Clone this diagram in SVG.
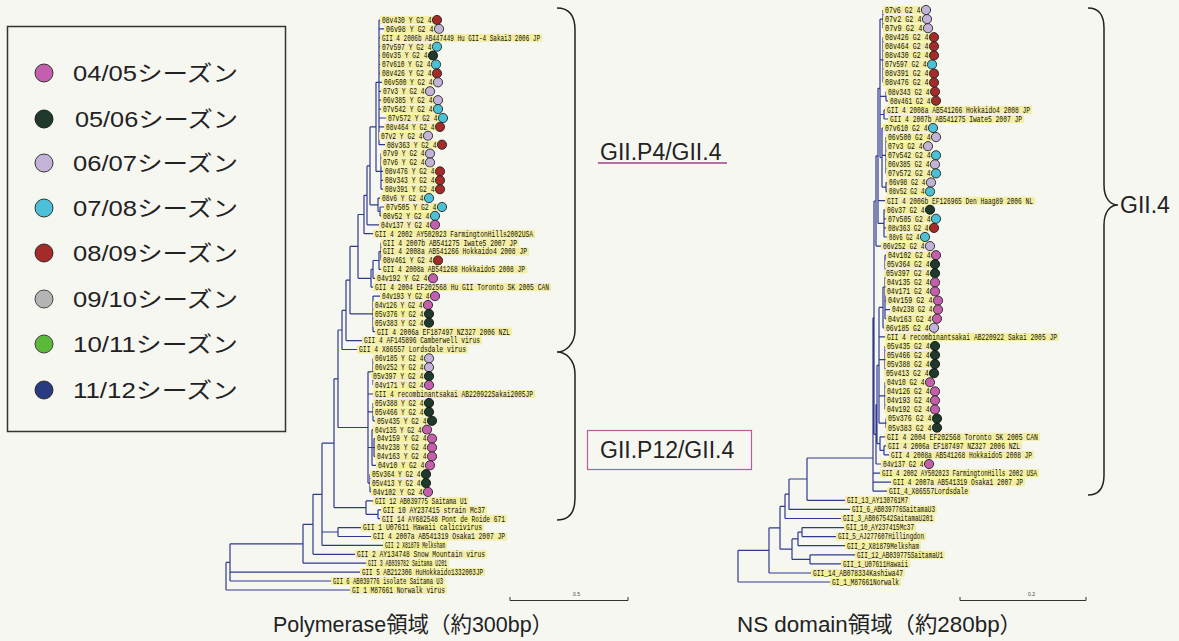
<svg xmlns="http://www.w3.org/2000/svg" width="1179" height="641" viewBox="0 0 1179 641">
<style>
.br{fill:none;stroke:#2f3a8c;stroke-width:1.2}
.hl{fill:#f3eea2}
.t{font-family:"Liberation Mono",monospace;font-size:8.6px;fill:#111}
.m{fill:#c45fae;stroke:#222;stroke-width:0.9}
.d{fill:#1f3a2c;stroke:#111;stroke-width:0.9}
.l{fill:#c3b3d9;stroke:#222;stroke-width:0.9}
.c{fill:#4cc0d6;stroke:#222;stroke-width:0.9}
.r{fill:#a52a2a;stroke:#222;stroke-width:0.9}
.g{fill:#b4b4b4;stroke:#333;stroke-width:0.9}
.gr{fill:#5ab83a;stroke:#333;stroke-width:0.9}
.nv{fill:#2a3a80;stroke:#222;stroke-width:0.9}
.lg{font-family:"Liberation Sans","Noto Sans CJK JP",sans-serif;font-size:22px;fill:#222}
.big{font-family:"Liberation Sans","Noto Sans CJK JP",sans-serif;font-size:23px;fill:#222}
.cap{font-family:"Liberation Sans","Noto Sans CJK JP",sans-serif;font-size:22px;fill:#222}
.brace{fill:none;stroke:#222;stroke-width:1.5}
.sb{fill:none;stroke:#333;stroke-width:1}
.sbt{font-family:"Liberation Sans",sans-serif;font-size:5px;fill:#444}
</style>
<rect x="0" y="0" width="1179" height="641" fill="#f7f7f2"/>

<g id="legend">
<rect x="7.5" y="26.5" width="278" height="405" fill="none" stroke="#333" stroke-width="1.5"/>
<g id="leg-0405"><circle cx="44" cy="73" r="9" class="m"/><text x="73" y="81" class="lg" textLength="165" lengthAdjust="spacingAndGlyphs">04/05シーズン</text></g>
<g id="leg-0506"><circle cx="44" cy="119" r="9" class="d"/><text x="75" y="127" class="lg" textLength="163" lengthAdjust="spacingAndGlyphs">05/06シーズン</text></g>
<g id="leg-0607"><circle cx="44" cy="163" r="9" class="l"/><text x="73" y="171" class="lg" textLength="165" lengthAdjust="spacingAndGlyphs">06/07シーズン</text></g>
<g id="leg-0708"><circle cx="44" cy="208" r="9" class="c"/><text x="73" y="216" class="lg" textLength="165" lengthAdjust="spacingAndGlyphs">07/08シーズン</text></g>
<g id="leg-0809"><circle cx="44" cy="253" r="9" class="r"/><text x="73" y="261" class="lg" textLength="165" lengthAdjust="spacingAndGlyphs">08/09シーズン</text></g>
<g id="leg-0910"><circle cx="44" cy="299" r="9" class="g"/><text x="73" y="307" class="lg" textLength="165" lengthAdjust="spacingAndGlyphs">09/10シーズン</text></g>
<g id="leg-1011"><circle cx="44" cy="344" r="9" class="gr"/><text x="73" y="352" class="lg" textLength="165" lengthAdjust="spacingAndGlyphs">10/11シーズン</text></g>
<g id="leg-1112"><circle cx="44" cy="390" r="9" class="nv"/><text x="73" y="398" class="lg" textLength="165" lengthAdjust="spacingAndGlyphs">11/12シーズン</text></g>
</g>

<g id="connectors">
<path id="tree-left" class="br" d="M379 20V144.7M379 20H380M379 28.9H384M379 37.8H380M379 46.7H380M379 55.6H380M379 64.5H380M379 73.4H380M379 82.3H382M379 91.3H381M379 100.2H381M379 109.1H381M379 118H386M379 126.9H384M379 144.7H385
M381 153.6V189.2M381 171.4H383M381 180.3H383M381 189.2H383
M376 82.3V171.4M376 82.3H379M376 171.4H381
M380 207V215.9M380 207H384M380 215.9H381
M378 198.1V211.5M378 198.1H380M378 211.5H380
M370 126.9V204.8M370 126.9H376M370 204.8H378
M367 165.9V224.8M367 165.9H370M367 224.8H379
M364 195.3V233.7M364 195.3H367M364 233.7H373
M381 242.7V260.5
M379 251.6V269.4M379 251.6H381M379 269.4H381
M373 260.5V278.3M373 260.5H379M373 278.3H375
M371 269.4V287.2M371 269.4H373M371 287.2H373
M358 214.5V278.3M358 214.5H364M358 278.3H371
M373 296.1V331.7M373 296.1H380M373 331.7H375
M350 246.4V313.9M350 246.4H358M350 313.9H373
M346 280.2V340.6M346 280.2H350M346 340.6H362
M342 310.4V349.5M342 310.4H346M342 349.5H357
M373 358.4V385.1
M373 403V420.8M373 420.8H375
M374 438.6V456.4M374 438.6H375M374 447.5H375M374 456.4H375
M372 429.7V465.3M372 429.7H373M372 447.5H374M372 465.3H376
M370 474.2V492M370 492H371
M368 371.8V483.1M368 371.8H373M368 394H373M368 411.9H373M368 447.5H372M368 483.1H370
M338 330V427.5M338 330H342M338 427.5H368
M378 509.8V518.7M378 509.8H381M378 518.7H380
M366 500.9V514.3M366 500.9H373M366 514.3H378
M334 378.8V507.6M334 378.8H338M334 507.6H366
M338 527.6V536.5M338 527.6H361M338 536.5H371
M322 443.2V545.4M322 443.2H334M322 532H338M322 545.4H383
M313 494.3V554.3M313 494.3H322M313 554.3H355
M303 524.3V563.2M303 524.3H313M303 563.2H366
M230 543.8V581M230 543.8H303M230 572.1H360M230 581H331
M226 562.4V590M226 562.4H230M226 590H350"/>
<path id="tree-right" class="br" d="M883 10V28.2M883 37.2V82.6M886 91.7V100.8M886 100.8H888
M884 109.9V119M884 109.9H885M884 119H888
M886 137.1V173.4M886 182.5V191.6M886 182.5H887M886 191.6H887
M882 128V187.1M882 128H883M882 155.3H886M882 187.1H886
M880 19.1V157.5M880 19.1H883M880 59.9H883M880 96.3H886M880 114.5H884M880 157.5H882
M884 209.8V237M884 209.8H885M884 218.8H886M884 227.9H886M884 237H887
M878 88.3V223.4M878 88.3H880M878 200.7H885M878 223.4H884
M876 155.8V246.1M876 155.8H878M876 246.1H881
M885 255.2V318.7M885 255.2H886M885 300.6H886M885 309.6H890M885 318.7H886
M883 287V327.8M883 287H885M883 327.8H884
M885 346V373.2M885 382.3V409.5M886 418.6V427.7
M879 307.4V423.2M879 307.4H883M879 336.9H885M879 359.6H885M879 395.9H885M879 423.2H886
M884 445.8V454.9M884 445.8H886M884 454.9H889
M880 436.8V450.4M880 436.8H885M880 450.4H884
M877 365.3V443.6M877 365.3H879M877 443.6H880
M876 404.5V464M876 404.5H877M876 464H881
M874 201V434.3M874 201H876M874 434.3H876
M873 317.7V491.2M873 317.7H874M873 473.1H880M873 482.2H891M873 491.2H887
M807 458H873M807 458V500.3M807 500.3H845
M789 479H807M789 479V509.4M789 509.4H850
M785 494.2H789M785 494.2V518.5M785 518.5H841
M802 527.6V536.6M802 527.6H844M802 536.6H836
M798 532.1H802M798 532.1V545.7M798 545.7H845
M810 554.8V563.9M810 554.8H855M810 563.9H841
M792 538.9H798M792 538.9V559.4M792 559.4H810
M780 506.4H785M780 506.4V549.2M780 549.2H792
M769 527.8H780M769 527.8V573M769 573H811
M738 550.4H769M738 550.4V582M738 582H830"/>
</g>

<g id="left-tips">
<g id="L1"><rect x="380" y="16" width="57" height="8" class="hl"/><text x="382" y="22.8" class="t" textLength="49.5" lengthAdjust="spacingAndGlyphs">08v430 Y G2 4</text><circle cx="437" cy="20" r="4.6" class="r"/></g>
<g id="L2"><rect x="384" y="24.9" width="55" height="8" class="hl"/><text x="386" y="31.7" class="t" textLength="47.5" lengthAdjust="spacingAndGlyphs">06v98 Y G2 4</text><circle cx="439" cy="28.9" r="4.6" class="l"/></g>
<g id="L3"><rect x="380" y="33.8" width="162" height="8" class="hl"/><text x="382" y="40.6" class="t" textLength="158" lengthAdjust="spacingAndGlyphs">GII 4 2006b AB447449 Hu GII-4 Sakai3 2006 JP</text></g>
<g id="L4"><rect x="380" y="42.7" width="57" height="8" class="hl"/><text x="382" y="49.5" class="t" textLength="49.5" lengthAdjust="spacingAndGlyphs">07v597 Y G2 4</text><circle cx="437" cy="46.7" r="4.6" class="c"/></g>
<g id="L5"><rect x="380" y="51.6" width="53" height="8" class="hl"/><text x="382" y="58.4" class="t" textLength="45.5" lengthAdjust="spacingAndGlyphs">06v35 Y G2 4</text><circle cx="433" cy="55.6" r="4.6" class="d"/></g>
<g id="L6"><rect x="380" y="60.5" width="56" height="8" class="hl"/><text x="382" y="67.3" class="t" textLength="48.5" lengthAdjust="spacingAndGlyphs">07v610 Y G2 4</text><circle cx="436" cy="64.5" r="4.6" class="c"/></g>
<g id="L7"><rect x="380" y="69.4" width="57" height="8" class="hl"/><text x="382" y="76.2" class="t" textLength="49.5" lengthAdjust="spacingAndGlyphs">08v426 Y G2 4</text><circle cx="437" cy="73.4" r="4.6" class="r"/></g>
<g id="L8"><rect x="382" y="78.3" width="56" height="8" class="hl"/><text x="384" y="85.1" class="t" textLength="48.5" lengthAdjust="spacingAndGlyphs">06v500 Y G2 4</text><circle cx="438" cy="82.3" r="4.6" class="l"/></g>
<g id="L9"><rect x="381" y="87.3" width="49" height="8" class="hl"/><text x="383" y="94.1" class="t" textLength="41.5" lengthAdjust="spacingAndGlyphs">07v3 Y G2 4</text><circle cx="430" cy="91.3" r="4.6" class="l"/></g>
<g id="L10"><rect x="381" y="96.2" width="57" height="8" class="hl"/><text x="383" y="103" class="t" textLength="49.5" lengthAdjust="spacingAndGlyphs">06v385 Y G2 4</text><circle cx="438" cy="100.2" r="4.6" class="l"/></g>
<g id="L11"><rect x="381" y="105.1" width="57" height="8" class="hl"/><text x="383" y="111.9" class="t" textLength="49.5" lengthAdjust="spacingAndGlyphs">07v542 Y G2 4</text><circle cx="438" cy="109.1" r="4.6" class="c"/></g>
<g id="L12"><rect x="386" y="114" width="57" height="8" class="hl"/><text x="388" y="120.8" class="t" textLength="49.5" lengthAdjust="spacingAndGlyphs">07v572 Y G2 4</text><circle cx="443" cy="118" r="4.6" class="c"/></g>
<g id="L13"><rect x="384" y="122.9" width="56" height="8" class="hl"/><text x="386" y="129.7" class="t" textLength="48.5" lengthAdjust="spacingAndGlyphs">08v464 Y G2 4</text><circle cx="440" cy="126.9" r="4.6" class="r"/></g>
<g id="L14"><rect x="379" y="131.8" width="49" height="8" class="hl"/><text x="381" y="138.6" class="t" textLength="41.5" lengthAdjust="spacingAndGlyphs">07v2 Y G2 4</text><circle cx="428" cy="135.8" r="4.6" class="l"/></g>
<g id="L15"><rect x="385" y="140.7" width="57" height="8" class="hl"/><text x="387" y="147.5" class="t" textLength="49.5" lengthAdjust="spacingAndGlyphs">08v363 Y G2 4</text><circle cx="442" cy="144.7" r="4.6" class="r"/></g>
<g id="L16"><rect x="381" y="149.6" width="49" height="8" class="hl"/><text x="383" y="156.4" class="t" textLength="41.5" lengthAdjust="spacingAndGlyphs">07v9 Y G2 4</text><circle cx="430" cy="153.6" r="4.6" class="l"/></g>
<g id="L17"><rect x="381" y="158.5" width="49" height="8" class="hl"/><text x="383" y="165.3" class="t" textLength="41.5" lengthAdjust="spacingAndGlyphs">07v6 Y G2 4</text><circle cx="430" cy="162.5" r="4.6" class="l"/></g>
<g id="L18"><rect x="383" y="167.4" width="57" height="8" class="hl"/><text x="385" y="174.2" class="t" textLength="49.5" lengthAdjust="spacingAndGlyphs">08v476 Y G2 4</text><circle cx="440" cy="171.4" r="4.6" class="r"/></g>
<g id="L19"><rect x="383" y="176.3" width="57" height="8" class="hl"/><text x="385" y="183.1" class="t" textLength="49.5" lengthAdjust="spacingAndGlyphs">08v343 Y G2 4</text><circle cx="440" cy="180.3" r="4.6" class="r"/></g>
<g id="L20"><rect x="383" y="185.2" width="57" height="8" class="hl"/><text x="385" y="192" class="t" textLength="49.5" lengthAdjust="spacingAndGlyphs">08v391 Y G2 4</text><circle cx="440" cy="189.2" r="4.6" class="r"/></g>
<g id="L21"><rect x="380" y="194.1" width="49" height="8" class="hl"/><text x="382" y="200.9" class="t" textLength="41.5" lengthAdjust="spacingAndGlyphs">08v6 Y G2 4</text><circle cx="429" cy="198.1" r="4.6" class="c"/></g>
<g id="L22"><rect x="384" y="203" width="58" height="8" class="hl"/><text x="386" y="209.8" class="t" textLength="50.5" lengthAdjust="spacingAndGlyphs">07v505 Y G2 4</text><circle cx="442" cy="207" r="4.6" class="c"/></g>
<g id="L23"><rect x="381" y="211.9" width="54" height="8" class="hl"/><text x="383" y="218.7" class="t" textLength="46.5" lengthAdjust="spacingAndGlyphs">08v52 Y G2 4</text><circle cx="435" cy="215.9" r="4.6" class="c"/></g>
<g id="L24"><rect x="379" y="220.8" width="56" height="8" class="hl"/><text x="381" y="227.6" class="t" textLength="48.5" lengthAdjust="spacingAndGlyphs">04v137 Y G2 4</text><circle cx="435" cy="224.8" r="4.6" class="m"/></g>
<g id="L25"><rect x="373" y="229.7" width="162" height="8" class="hl"/><text x="375" y="236.5" class="t" textLength="158" lengthAdjust="spacingAndGlyphs">GII 4 2002 AY502023 FarmingtonHills2002USA</text></g>
<g id="L26"><rect x="381" y="238.7" width="138" height="8" class="hl"/><text x="383" y="245.5" class="t" textLength="134" lengthAdjust="spacingAndGlyphs">GII 4 2007b AB541275 Iwate5 2007 JP</text></g>
<g id="L27"><rect x="381" y="247.6" width="148" height="8" class="hl"/><text x="383" y="254.4" class="t" textLength="144" lengthAdjust="spacingAndGlyphs">GII 4 2008a AB541266 Hokkaido4 2008 JP</text></g>
<g id="L28"><rect x="381" y="256.5" width="57" height="8" class="hl"/><text x="383" y="263.3" class="t" textLength="49.5" lengthAdjust="spacingAndGlyphs">08v461 Y G2 4</text><circle cx="438" cy="260.5" r="4.6" class="r"/></g>
<g id="L29"><rect x="381" y="265.4" width="146" height="8" class="hl"/><text x="383" y="272.2" class="t" textLength="142" lengthAdjust="spacingAndGlyphs">GII 4 2008a AB541268 Hokkaido5 2008 JP</text></g>
<g id="L30"><rect x="375" y="274.3" width="58" height="8" class="hl"/><text x="377" y="281.1" class="t" textLength="50.5" lengthAdjust="spacingAndGlyphs">04v192 Y G2 4</text><circle cx="433" cy="278.3" r="4.6" class="m"/></g>
<g id="L31"><rect x="373" y="283.2" width="178" height="8" class="hl"/><text x="375" y="290" class="t" textLength="174" lengthAdjust="spacingAndGlyphs">GII 4 2004 EF202568 Hu GII Toronto SK 2005 CAN</text></g>
<g id="L32"><rect x="380" y="292.1" width="55" height="8" class="hl"/><text x="382" y="298.9" class="t" textLength="47.5" lengthAdjust="spacingAndGlyphs">04v193 Y G2 4</text><circle cx="435" cy="296.1" r="4.6" class="m"/></g>
<g id="L33"><rect x="373" y="301" width="55" height="8" class="hl"/><text x="375" y="307.8" class="t" textLength="47.5" lengthAdjust="spacingAndGlyphs">04v126 Y G2 4</text><circle cx="428" cy="305" r="4.6" class="m"/></g>
<g id="L34"><rect x="373" y="309.9" width="56" height="8" class="hl"/><text x="375" y="316.7" class="t" textLength="48.5" lengthAdjust="spacingAndGlyphs">05v376 Y G2 4</text><circle cx="429" cy="313.9" r="4.6" class="d"/></g>
<g id="L35"><rect x="373" y="318.8" width="56" height="8" class="hl"/><text x="375" y="325.6" class="t" textLength="48.5" lengthAdjust="spacingAndGlyphs">05v383 Y G2 4</text><circle cx="429" cy="322.8" r="4.6" class="d"/></g>
<g id="L36"><rect x="375" y="327.7" width="137" height="8" class="hl"/><text x="377" y="334.5" class="t" textLength="133" lengthAdjust="spacingAndGlyphs">GII 4 2006a EF187497 NZ327 2006 NZL</text></g>
<g id="L37"><rect x="362" y="336.6" width="120" height="8" class="hl"/><text x="364" y="343.4" class="t" textLength="116" lengthAdjust="spacingAndGlyphs">GII 4 AF145896 Camberwell virus</text></g>
<g id="L38"><rect x="357" y="345.5" width="111" height="8" class="hl"/><text x="359" y="352.3" class="t" textLength="107" lengthAdjust="spacingAndGlyphs">GII 4 X86557 Lordsdale virus</text></g>
<g id="L39"><rect x="373" y="354.4" width="56" height="8" class="hl"/><text x="375" y="361.2" class="t" textLength="48.5" lengthAdjust="spacingAndGlyphs">06v185 Y G2 4</text><circle cx="429" cy="358.4" r="4.6" class="l"/></g>
<g id="L40"><rect x="373" y="363.3" width="56" height="8" class="hl"/><text x="375" y="370.1" class="t" textLength="48.5" lengthAdjust="spacingAndGlyphs">06v252 Y G2 4</text><circle cx="429" cy="367.3" r="4.6" class="l"/></g>
<g id="L41"><rect x="371" y="372.2" width="58" height="8" class="hl"/><text x="373" y="379" class="t" textLength="50.5" lengthAdjust="spacingAndGlyphs">05v397 Y G2 4</text><circle cx="429" cy="376.2" r="4.6" class="d"/></g>
<g id="L42"><rect x="373" y="381.1" width="56" height="8" class="hl"/><text x="375" y="387.9" class="t" textLength="48.5" lengthAdjust="spacingAndGlyphs">04v171 Y G2 4</text><circle cx="429" cy="385.1" r="4.6" class="m"/></g>
<g id="L43"><rect x="373" y="390" width="162" height="8" class="hl"/><text x="375" y="396.8" class="t" textLength="158" lengthAdjust="spacingAndGlyphs">GII 4 recombinantsakai AB220922Sakai2005JP</text></g>
<g id="L44"><rect x="373" y="399" width="56" height="8" class="hl"/><text x="375" y="405.8" class="t" textLength="48.5" lengthAdjust="spacingAndGlyphs">05v388 Y G2 4</text><circle cx="429" cy="403" r="4.6" class="d"/></g>
<g id="L45"><rect x="373" y="407.9" width="56" height="8" class="hl"/><text x="375" y="414.7" class="t" textLength="48.5" lengthAdjust="spacingAndGlyphs">05v466 Y G2 4</text><circle cx="429" cy="411.9" r="4.6" class="d"/></g>
<g id="L46"><rect x="375" y="416.8" width="57" height="8" class="hl"/><text x="377" y="423.6" class="t" textLength="49.5" lengthAdjust="spacingAndGlyphs">05v435 Y G2 4</text><circle cx="432" cy="420.8" r="4.6" class="d"/></g>
<g id="L47"><rect x="373" y="425.7" width="54" height="8" class="hl"/><text x="375" y="432.5" class="t" textLength="46.5" lengthAdjust="spacingAndGlyphs">04v135 Y G2 4</text><circle cx="427" cy="429.7" r="4.6" class="m"/></g>
<g id="L48"><rect x="375" y="434.6" width="57" height="8" class="hl"/><text x="377" y="441.4" class="t" textLength="49.5" lengthAdjust="spacingAndGlyphs">04v159 Y G2 4</text><circle cx="432" cy="438.6" r="4.6" class="m"/></g>
<g id="L49"><rect x="375" y="443.5" width="57" height="8" class="hl"/><text x="377" y="450.3" class="t" textLength="49.5" lengthAdjust="spacingAndGlyphs">04v238 Y G2 4</text><circle cx="432" cy="447.5" r="4.6" class="m"/></g>
<g id="L50"><rect x="375" y="452.4" width="57" height="8" class="hl"/><text x="377" y="459.2" class="t" textLength="49.5" lengthAdjust="spacingAndGlyphs">04v163 Y G2 4</text><circle cx="432" cy="456.4" r="4.6" class="m"/></g>
<g id="L51"><rect x="376" y="461.3" width="54" height="8" class="hl"/><text x="378" y="468.1" class="t" textLength="46.5" lengthAdjust="spacingAndGlyphs">04v10 Y G2 4</text><circle cx="430" cy="465.3" r="4.6" class="m"/></g>
<g id="L52"><rect x="370" y="470.2" width="56" height="8" class="hl"/><text x="372" y="477" class="t" textLength="48.5" lengthAdjust="spacingAndGlyphs">05v364 Y G2 4</text><circle cx="426" cy="474.2" r="4.6" class="d"/></g>
<g id="L53"><rect x="370" y="479.1" width="56" height="8" class="hl"/><text x="372" y="485.9" class="t" textLength="48.5" lengthAdjust="spacingAndGlyphs">05v413 Y G2 4</text><circle cx="426" cy="483.1" r="4.6" class="d"/></g>
<g id="L54"><rect x="371" y="488" width="57" height="8" class="hl"/><text x="373" y="494.8" class="t" textLength="49.5" lengthAdjust="spacingAndGlyphs">04v102 Y G2 4</text><circle cx="428" cy="492" r="4.6" class="m"/></g>
<g id="L55"><rect x="373" y="496.9" width="96" height="8" class="hl"/><text x="375" y="503.7" class="t" textLength="92" lengthAdjust="spacingAndGlyphs">GII 12 AB039775 Saitama U1</text></g>
<g id="L56"><rect x="381" y="505.8" width="106" height="8" class="hl"/><text x="383" y="512.6" class="t" textLength="102" lengthAdjust="spacingAndGlyphs">GII 10 AY237415 strain Mc37</text></g>
<g id="L57"><rect x="380" y="514.7" width="127" height="8" class="hl"/><text x="382" y="521.5" class="t" textLength="123" lengthAdjust="spacingAndGlyphs">GII 14 AY682548 Pont de Roide 671</text></g>
<g id="L58"><rect x="361" y="523.6" width="123" height="8" class="hl"/><text x="363" y="530.4" class="t" textLength="119" lengthAdjust="spacingAndGlyphs">GII 1 U07611 Hawaii calicivirus</text></g>
<g id="L59"><rect x="371" y="532.5" width="136" height="8" class="hl"/><text x="373" y="539.3" class="t" textLength="132" lengthAdjust="spacingAndGlyphs">GII 4 2007a AB541319 Osaka1 2007 JP</text></g>
<g id="L60"><rect x="383" y="541.4" width="64" height="8" class="hl"/><text x="385" y="548.2" class="t" textLength="60" lengthAdjust="spacingAndGlyphs">GII 2 X81879 Melksham</text></g>
<g id="L61"><rect x="355" y="550.3" width="132" height="8" class="hl"/><text x="357" y="557.1" class="t" textLength="128" lengthAdjust="spacingAndGlyphs">GII 2 AY134748 Snow Mountain virus</text></g>
<g id="L62"><rect x="366" y="559.2" width="83" height="8" class="hl"/><text x="368" y="566" class="t" textLength="79" lengthAdjust="spacingAndGlyphs">GII 3 AB039782 Saitama U201</text></g>
<g id="L63"><rect x="360" y="568.1" width="125" height="8" class="hl"/><text x="362" y="574.9" class="t" textLength="121" lengthAdjust="spacingAndGlyphs">GII 5 AB212306 HuHokkaido1332003JP</text></g>
<g id="L64"><rect x="331" y="577" width="114" height="8" class="hl"/><text x="333" y="583.8" class="t" textLength="110" lengthAdjust="spacingAndGlyphs">GII 6 AB039776 isolate Saitama U3</text></g>
<g id="L65"><rect x="350" y="586" width="97" height="8" class="hl"/><text x="352" y="592.8" class="t" textLength="93" lengthAdjust="spacingAndGlyphs">GI 1 M87661 Norwalk virus</text></g>
</g>

<g id="right-tips">
<g id="R1"><rect x="883" y="6" width="43" height="8" class="hl"/><text x="885" y="12.8" class="t" textLength="35.5" lengthAdjust="spacingAndGlyphs">07v6 G2 4</text><circle cx="926" cy="10" r="4.6" class="l"/></g>
<g id="R2"><rect x="883" y="15.1" width="44" height="8" class="hl"/><text x="885" y="21.9" class="t" textLength="36.5" lengthAdjust="spacingAndGlyphs">07v2 G2 4</text><circle cx="927" cy="19.1" r="4.6" class="l"/></g>
<g id="R3"><rect x="883" y="24.2" width="45" height="8" class="hl"/><text x="885" y="31" class="t" textLength="37.5" lengthAdjust="spacingAndGlyphs">07v9 G2 4</text><circle cx="928" cy="28.2" r="4.6" class="l"/></g>
<g id="R4"><rect x="883" y="33.2" width="51" height="8" class="hl"/><text x="885" y="40" class="t" textLength="43.5" lengthAdjust="spacingAndGlyphs">08v426 G2 4</text><circle cx="934" cy="37.2" r="4.6" class="r"/></g>
<g id="R5"><rect x="883" y="42.3" width="51" height="8" class="hl"/><text x="885" y="49.1" class="t" textLength="43.5" lengthAdjust="spacingAndGlyphs">08v464 G2 4</text><circle cx="934" cy="46.3" r="4.6" class="r"/></g>
<g id="R6"><rect x="883" y="51.4" width="51" height="8" class="hl"/><text x="885" y="58.2" class="t" textLength="43.5" lengthAdjust="spacingAndGlyphs">08v430 G2 4</text><circle cx="934" cy="55.4" r="4.6" class="r"/></g>
<g id="R7"><rect x="883" y="60.5" width="49" height="8" class="hl"/><text x="885" y="67.3" class="t" textLength="41.5" lengthAdjust="spacingAndGlyphs">07v597 G2 4</text><circle cx="932" cy="64.5" r="4.6" class="c"/></g>
<g id="R8"><rect x="883" y="69.6" width="51" height="8" class="hl"/><text x="885" y="76.4" class="t" textLength="43.5" lengthAdjust="spacingAndGlyphs">08v391 G2 4</text><circle cx="934" cy="73.6" r="4.6" class="r"/></g>
<g id="R9"><rect x="883" y="78.6" width="51" height="8" class="hl"/><text x="885" y="85.4" class="t" textLength="43.5" lengthAdjust="spacingAndGlyphs">08v476 G2 4</text><circle cx="934" cy="82.6" r="4.6" class="r"/></g>
<g id="R10"><rect x="886" y="87.7" width="49" height="8" class="hl"/><text x="888" y="94.5" class="t" textLength="41.5" lengthAdjust="spacingAndGlyphs">08v343 G2 4</text><circle cx="935" cy="91.7" r="4.6" class="r"/></g>
<g id="R11"><rect x="888" y="96.8" width="48" height="8" class="hl"/><text x="890" y="103.6" class="t" textLength="40.5" lengthAdjust="spacingAndGlyphs">08v461 G2 4</text><circle cx="936" cy="100.8" r="4.6" class="r"/></g>
<g id="R12"><rect x="885" y="105.9" width="147" height="8" class="hl"/><text x="887" y="112.7" class="t" textLength="143" lengthAdjust="spacingAndGlyphs">GII 4 2008a AB541266 Hokkaido4 2008 JP</text></g>
<g id="R13"><rect x="888" y="115" width="136" height="8" class="hl"/><text x="890" y="121.8" class="t" textLength="132" lengthAdjust="spacingAndGlyphs">GII 4 2007b AB541275 Iwate5 2007 JP</text></g>
<g id="R14"><rect x="883" y="124" width="50" height="8" class="hl"/><text x="885" y="130.8" class="t" textLength="42.5" lengthAdjust="spacingAndGlyphs">07v610 G2 4</text><circle cx="933" cy="128" r="4.6" class="c"/></g>
<g id="R15"><rect x="886" y="133.1" width="50" height="8" class="hl"/><text x="888" y="139.9" class="t" textLength="42.5" lengthAdjust="spacingAndGlyphs">06v500 G2 4</text><circle cx="936" cy="137.1" r="4.6" class="l"/></g>
<g id="R16"><rect x="886" y="142.2" width="42" height="8" class="hl"/><text x="888" y="149" class="t" textLength="34.5" lengthAdjust="spacingAndGlyphs">07v3 G2 4</text><circle cx="928" cy="146.2" r="4.6" class="l"/></g>
<g id="R17"><rect x="886" y="151.3" width="50" height="8" class="hl"/><text x="888" y="158.1" class="t" textLength="42.5" lengthAdjust="spacingAndGlyphs">07v542 G2 4</text><circle cx="936" cy="155.3" r="4.6" class="c"/></g>
<g id="R18"><rect x="886" y="160.4" width="49" height="8" class="hl"/><text x="888" y="167.2" class="t" textLength="41.5" lengthAdjust="spacingAndGlyphs">06v385 G2 4</text><circle cx="935" cy="164.4" r="4.6" class="l"/></g>
<g id="R19"><rect x="886" y="169.4" width="50" height="8" class="hl"/><text x="888" y="176.2" class="t" textLength="42.5" lengthAdjust="spacingAndGlyphs">07v572 G2 4</text><circle cx="936" cy="173.4" r="4.6" class="c"/></g>
<g id="R20"><rect x="887" y="178.5" width="44" height="8" class="hl"/><text x="889" y="185.3" class="t" textLength="36.5" lengthAdjust="spacingAndGlyphs">06v98 G2 4</text><circle cx="931" cy="182.5" r="4.6" class="l"/></g>
<g id="R21"><rect x="887" y="187.6" width="43" height="8" class="hl"/><text x="889" y="194.4" class="t" textLength="35.5" lengthAdjust="spacingAndGlyphs">08v52 G2 4</text><circle cx="930" cy="191.6" r="4.6" class="c"/></g>
<g id="R22"><rect x="885" y="196.7" width="150" height="8" class="hl"/><text x="887" y="203.5" class="t" textLength="146" lengthAdjust="spacingAndGlyphs">GII 4 2006b EF126965 Den Haag89 2006 NL</text></g>
<g id="R23"><rect x="885" y="205.8" width="45" height="8" class="hl"/><text x="887" y="212.6" class="t" textLength="37.5" lengthAdjust="spacingAndGlyphs">06v37 G2 4</text><circle cx="930" cy="209.8" r="4.6" class="d"/></g>
<g id="R24"><rect x="886" y="214.8" width="50" height="8" class="hl"/><text x="888" y="221.6" class="t" textLength="42.5" lengthAdjust="spacingAndGlyphs">07v505 G2 4</text><circle cx="936" cy="218.8" r="4.6" class="c"/></g>
<g id="R25"><rect x="886" y="223.9" width="48" height="8" class="hl"/><text x="888" y="230.7" class="t" textLength="40.5" lengthAdjust="spacingAndGlyphs">08v363 G2 4</text><circle cx="934" cy="227.9" r="4.6" class="r"/></g>
<g id="R26"><rect x="887" y="233" width="38" height="8" class="hl"/><text x="889" y="239.8" class="t" textLength="30.5" lengthAdjust="spacingAndGlyphs">08v6 G2 4</text><circle cx="925" cy="237" r="4.6" class="c"/></g>
<g id="R27"><rect x="881" y="242.1" width="49" height="8" class="hl"/><text x="883" y="248.9" class="t" textLength="41.5" lengthAdjust="spacingAndGlyphs">06v252 G2 4</text><circle cx="930" cy="246.1" r="4.6" class="l"/></g>
<g id="R28"><rect x="886" y="251.2" width="50" height="8" class="hl"/><text x="888" y="258" class="t" textLength="42.5" lengthAdjust="spacingAndGlyphs">04v102 G2 4</text><circle cx="936" cy="255.2" r="4.6" class="m"/></g>
<g id="R29"><rect x="885" y="260.2" width="50" height="8" class="hl"/><text x="887" y="267" class="t" textLength="42.5" lengthAdjust="spacingAndGlyphs">05v364 G2 4</text><circle cx="935" cy="264.2" r="4.6" class="d"/></g>
<g id="R30"><rect x="884" y="269.3" width="51" height="8" class="hl"/><text x="886" y="276.1" class="t" textLength="43.5" lengthAdjust="spacingAndGlyphs">05v397 G2 4</text><circle cx="935" cy="273.3" r="4.6" class="d"/></g>
<g id="R31"><rect x="885" y="278.4" width="50" height="8" class="hl"/><text x="887" y="285.2" class="t" textLength="42.5" lengthAdjust="spacingAndGlyphs">04v135 G2 4</text><circle cx="935" cy="282.4" r="4.6" class="m"/></g>
<g id="R32"><rect x="885" y="287.5" width="50" height="8" class="hl"/><text x="887" y="294.3" class="t" textLength="42.5" lengthAdjust="spacingAndGlyphs">04v171 G2 4</text><circle cx="935" cy="291.5" r="4.6" class="m"/></g>
<g id="R33"><rect x="886" y="296.6" width="52" height="8" class="hl"/><text x="888" y="303.4" class="t" textLength="44.5" lengthAdjust="spacingAndGlyphs">04v159 G2 4</text><circle cx="938" cy="300.6" r="4.6" class="m"/></g>
<g id="R34"><rect x="890" y="305.6" width="48" height="8" class="hl"/><text x="892" y="312.4" class="t" textLength="40.5" lengthAdjust="spacingAndGlyphs">04v238 G2 4</text><circle cx="938" cy="309.6" r="4.6" class="m"/></g>
<g id="R35"><rect x="886" y="314.7" width="51" height="8" class="hl"/><text x="888" y="321.5" class="t" textLength="43.5" lengthAdjust="spacingAndGlyphs">04v163 G2 4</text><circle cx="937" cy="318.7" r="4.6" class="m"/></g>
<g id="R36"><rect x="884" y="323.8" width="50" height="8" class="hl"/><text x="886" y="330.6" class="t" textLength="42.5" lengthAdjust="spacingAndGlyphs">06v185 G2 4</text><circle cx="934" cy="327.8" r="4.6" class="l"/></g>
<g id="R37"><rect x="885" y="332.9" width="174" height="8" class="hl"/><text x="887" y="339.7" class="t" textLength="170" lengthAdjust="spacingAndGlyphs">GII 4 recombinantsakai AB220922 Sakai 2005 JP</text></g>
<g id="R38"><rect x="885" y="342" width="50" height="8" class="hl"/><text x="887" y="348.8" class="t" textLength="42.5" lengthAdjust="spacingAndGlyphs">05v435 G2 4</text><circle cx="935" cy="346" r="4.6" class="d"/></g>
<g id="R39"><rect x="885" y="351" width="50" height="8" class="hl"/><text x="887" y="357.8" class="t" textLength="42.5" lengthAdjust="spacingAndGlyphs">05v466 G2 4</text><circle cx="935" cy="355" r="4.6" class="d"/></g>
<g id="R40"><rect x="885" y="360.1" width="50" height="8" class="hl"/><text x="887" y="366.9" class="t" textLength="42.5" lengthAdjust="spacingAndGlyphs">05v388 G2 4</text><circle cx="935" cy="364.1" r="4.6" class="d"/></g>
<g id="R41"><rect x="884" y="369.2" width="50" height="8" class="hl"/><text x="886" y="376" class="t" textLength="42.5" lengthAdjust="spacingAndGlyphs">05v413 G2 4</text><circle cx="934" cy="373.2" r="4.6" class="d"/></g>
<g id="R42"><rect x="885" y="378.3" width="45" height="8" class="hl"/><text x="887" y="385.1" class="t" textLength="37.5" lengthAdjust="spacingAndGlyphs">04v10 G2 4</text><circle cx="930" cy="382.3" r="4.6" class="m"/></g>
<g id="R43"><rect x="885" y="387.4" width="50" height="8" class="hl"/><text x="887" y="394.2" class="t" textLength="42.5" lengthAdjust="spacingAndGlyphs">04v126 G2 4</text><circle cx="935" cy="391.4" r="4.6" class="m"/></g>
<g id="R44"><rect x="885" y="396.4" width="50" height="8" class="hl"/><text x="887" y="403.2" class="t" textLength="42.5" lengthAdjust="spacingAndGlyphs">04v193 G2 4</text><circle cx="935" cy="400.4" r="4.6" class="m"/></g>
<g id="R45"><rect x="885" y="405.5" width="50" height="8" class="hl"/><text x="887" y="412.3" class="t" textLength="42.5" lengthAdjust="spacingAndGlyphs">04v192 G2 4</text><circle cx="935" cy="409.5" r="4.6" class="m"/></g>
<g id="R46"><rect x="886" y="414.6" width="51" height="8" class="hl"/><text x="888" y="421.4" class="t" textLength="43.5" lengthAdjust="spacingAndGlyphs">05v376 G2 4</text><circle cx="937" cy="418.6" r="4.6" class="d"/></g>
<g id="R47"><rect x="886" y="423.7" width="51" height="8" class="hl"/><text x="888" y="430.5" class="t" textLength="43.5" lengthAdjust="spacingAndGlyphs">05v383 G2 4</text><circle cx="937" cy="427.7" r="4.6" class="d"/></g>
<g id="R48"><rect x="885" y="432.8" width="155" height="8" class="hl"/><text x="887" y="439.6" class="t" textLength="151" lengthAdjust="spacingAndGlyphs">GII 4 2004 EF202568 Toronto SK 2005 CAN</text></g>
<g id="R49"><rect x="886" y="441.8" width="136" height="8" class="hl"/><text x="888" y="448.6" class="t" textLength="132" lengthAdjust="spacingAndGlyphs">GII 4 2006a EF187497 NZ327 2006 NZL</text></g>
<g id="R50"><rect x="889" y="450.9" width="145" height="8" class="hl"/><text x="891" y="457.7" class="t" textLength="141" lengthAdjust="spacingAndGlyphs">GII 4 2008a AB541268 Hokkaido5 2008 JP</text></g>
<g id="R51"><rect x="881" y="460" width="48" height="8" class="hl"/><text x="883" y="466.8" class="t" textLength="40.5" lengthAdjust="spacingAndGlyphs">04v137 G2 4</text><circle cx="929" cy="464" r="4.6" class="m"/></g>
<g id="R52"><rect x="880" y="469.1" width="159" height="8" class="hl"/><text x="882" y="475.9" class="t" textLength="155" lengthAdjust="spacingAndGlyphs">GII 4 2002 AY502023 FarmingtonHills 2002 USA</text></g>
<g id="R53"><rect x="891" y="478.2" width="134" height="8" class="hl"/><text x="893" y="485" class="t" textLength="130" lengthAdjust="spacingAndGlyphs">GII 4 2007a AB541319 Osaka1 2007 JP</text></g>
<g id="R54"><rect x="887" y="487.2" width="83" height="8" class="hl"/><text x="889" y="494" class="t" textLength="79" lengthAdjust="spacingAndGlyphs">GII_4_X86557Lordsdale</text></g>
<g id="R55"><rect x="845" y="496.3" width="65" height="8" class="hl"/><text x="847" y="503.1" class="t" textLength="61" lengthAdjust="spacingAndGlyphs">GII_13_AY130761M7</text></g>
<g id="R56"><rect x="850" y="505.4" width="87" height="8" class="hl"/><text x="852" y="512.2" class="t" textLength="83" lengthAdjust="spacingAndGlyphs">GII_6_AB039776SaitamaU3</text></g>
<g id="R57"><rect x="841" y="514.5" width="94" height="8" class="hl"/><text x="843" y="521.3" class="t" textLength="90" lengthAdjust="spacingAndGlyphs">GII_3_AB067542SaitamaU201</text></g>
<g id="R58"><rect x="844" y="523.6" width="72" height="8" class="hl"/><text x="846" y="530.4" class="t" textLength="68" lengthAdjust="spacingAndGlyphs">GII_10_AY237415Mc37</text></g>
<g id="R59"><rect x="836" y="532.6" width="90" height="8" class="hl"/><text x="838" y="539.4" class="t" textLength="86" lengthAdjust="spacingAndGlyphs">GII_5_AJ277607Hillingdon</text></g>
<g id="R60"><rect x="845" y="541.7" width="76" height="8" class="hl"/><text x="847" y="548.5" class="t" textLength="72" lengthAdjust="spacingAndGlyphs">GII_2_X81879Melksham</text></g>
<g id="R61"><rect x="855" y="550.8" width="90" height="8" class="hl"/><text x="857" y="557.6" class="t" textLength="86" lengthAdjust="spacingAndGlyphs">GII_12_AB039775SaitamaU1</text></g>
<g id="R62"><rect x="841" y="559.9" width="69" height="8" class="hl"/><text x="843" y="566.7" class="t" textLength="65" lengthAdjust="spacingAndGlyphs">GII_1_U07611Hawaii</text></g>
<g id="R63"><rect x="811" y="569" width="94" height="8" class="hl"/><text x="813" y="575.8" class="t" textLength="90" lengthAdjust="spacingAndGlyphs">GII_14_AB078334Kashiwa47</text></g>
<g id="R64"><rect x="830" y="578" width="71" height="8" class="hl"/><text x="832" y="584.8" class="t" textLength="67" lengthAdjust="spacingAndGlyphs">GI_1_M87661Norwalk</text></g>
</g>

<g id="annotations">
<path class="brace" d="M557 8C570 8 575 16 575 30L575 330C575 344 566 352 557 352C566 352 575 360 575 374L575 498C575 512 570 520 557 520"/>
<g id="label-p4"><text x="600" y="160" class="big">GII.P4/GII.4</text><line x1="598" y1="163" x2="727" y2="163" stroke="#a04090" stroke-width="1.5"/></g>
<g id="label-p12"><rect x="587.5" y="430.5" width="164" height="39" fill="none" stroke="#b060a0" stroke-width="1.2"/><text x="600" y="458" class="big">GII.P12/GII.4</text></g>
<path class="brace" d="M1088 8C1098 8 1104 14 1104 28L1104 185C1104 198 1110 205 1118 205C1110 205 1104 212 1104 225L1104 475C1104 489 1098 495 1088 495"/>
<g id="label-gii4"><text x="1120" y="213" class="big">GII.4</text></g>
</g>

<g id="scales">
<path class="sb" d="M510 597V600.5H628V597"/>
<text x="573" y="596" class="sbt">0.5</text>
<path class="sb" d="M960 597V600.5H1086V597"/>
<text x="1028" y="596" class="sbt">0.2</text>
</g>

<g id="captions">
<text x="273" y="632" class="cap" textLength="280" lengthAdjust="spacingAndGlyphs">Polymerase領域（約300bp）</text>
<text x="737" y="632" class="cap" textLength="285" lengthAdjust="spacingAndGlyphs">NS domain領域（約280bp）</text>
</g>
</svg>
